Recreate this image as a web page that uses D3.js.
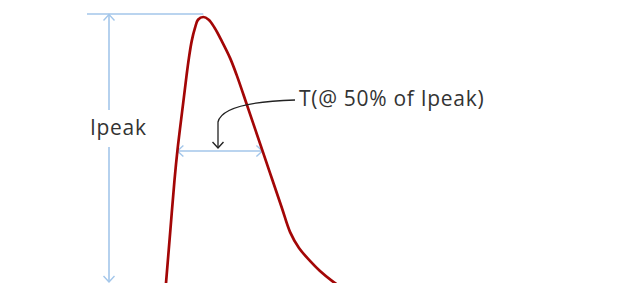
<!DOCTYPE html>
<html>
<head>
<meta charset="utf-8">
<script src="https://cdn.jsdelivr.net/npm/d3@7"></script>
<style>
  html, body { margin: 0; padding: 0; background: #fff; }
  svg { display: block; }
</style>
</head>
<body>
<svg id="chart" width="623" height="283"></svg>
<script>
// Pulse waveform (time in arbitrary units, current as fraction of Ipeak)
const time    = [-0.4, 1, 5.2, 9.5, 12.5, 17.7, 21.6, 23.9, 26.7, 30, 33, 38.3, 43.7, 49.7, 56.8, 65.1, 71.7, 82.6, 97.2, 107.4, 116.9, 125.1, 134, 145, 155, 167, 180];
const current = [-0.044, 0.018, 0.204, 0.394, 0.504, 0.661, 0.777, 0.839, 0.901, 0.949, 0.979, 0.989, 0.979, 0.949, 0.901, 0.839, 0.777, 0.661, 0.504, 0.394, 0.292, 0.204, 0.146, 0.099, 0.062, 0.026, -0.007];
const ipeak = 1.0;
const halfLevel = 0.5;
const halfStart = 12.4;   // rising edge at 50%
const halfEnd = 97.4;     // falling edge at 50%
const peakTime = 38.3;
const labels = { peak: "Ipeak", width: "T(@ 50% of Ipeak)" };

const svg = d3.select("#chart");
const x = d3.scaleLinear().domain([0, 170]).range([165, 335]);
const y = d3.scaleLinear().domain([0, 1]).range([288, 14]);

const blue = "#a3c6ea";
const red = "#a30606";
const ink = "#333333";

const defs = svg.append("defs");
function chevron(id, color) {
  defs.append("marker")
    .attr("id", id)
    .attr("viewBox", "-8 -6 10 12")
    .attr("markerWidth", 10).attr("markerHeight", 12)
    .attr("markerUnits", "userSpaceOnUse")
    .attr("refX", 0).attr("refY", 0)
    .attr("orient", "auto-start-reverse")
    .append("path")
    .attr("d", "M-6,-5.5 L0,0 L-6,5.5")
    .attr("fill", "none")
    .attr("stroke", color)
    .attr("stroke-width", 1.4);
}
chevron("arrBlue", blue);
chevron("arrBlack", "#222");

// Ipeak reference line
const xLeft = 87;
const xArrow = 109;
svg.append("line")
  .attr("x1", xLeft).attr("x2", x(peakTime))
  .attr("y1", y(ipeak)).attr("y2", y(ipeak))
  .attr("stroke", blue).attr("stroke-width", 1.6);

// vertical double arrow (split around label)
svg.append("line")
  .attr("x1", xArrow).attr("x2", xArrow)
  .attr("y1", 110).attr("y2", y(ipeak) + 0.5)
  .attr("stroke", blue).attr("stroke-width", 1.6)
  .attr("marker-end", "url(#arrBlue)");
svg.append("line")
  .attr("x1", xArrow).attr("x2", xArrow)
  .attr("y1", 147).attr("y2", 282)
  .attr("stroke", blue).attr("stroke-width", 1.6)
  .attr("marker-end", "url(#arrBlue)");

svg.append("text")
  .attr("x", 90).attr("y", 135)
  .attr("font-family", "Open Sans, sans-serif")
  .attr("font-size", 21)
  .attr("letter-spacing", 0.7)
  .attr("fill", ink)
  .text(labels.peak);

// 50% width arrow
svg.append("line")
  .attr("x1", x(halfStart)).attr("x2", x(halfEnd))
  .attr("y1", y(halfLevel)).attr("y2", y(halfLevel))
  .attr("stroke", blue).attr("stroke-width", 1.6)
  .attr("marker-start", "url(#arrBlue)")
  .attr("marker-end", "url(#arrBlue)");

// waveform
const line = d3.line()
  .x((d, i) => x(time[i]))
  .y((d, i) => y(current[i]))
  .curve(d3.curveCatmullRom.alpha(0.5));
svg.append("path")
  .attr("d", line(time))
  .attr("fill", "none")
  .attr("stroke", red)
  .attr("stroke-width", 2.7)
  .attr("stroke-linejoin", "round");

// callout
const callout = d3.path();
callout.moveTo(295, 100);
callout.bezierCurveTo(260, 101, 222, 105, 218, 122);
callout.lineTo(218, 148);
svg.append("path")
  .attr("d", callout.toString())
  .attr("fill", "none")
  .attr("stroke", "#222")
  .attr("stroke-width", 1.3)
  .attr("marker-end", "url(#arrBlack)");

svg.append("text")
  .attr("x", 299).attr("y", 106)
  .attr("font-family", "Open Sans, sans-serif")
  .attr("font-size", 21)
  .attr("letter-spacing", 0.7)
  .attr("fill", ink)
  .text(labels.width);
</script>
</body>
</html>
